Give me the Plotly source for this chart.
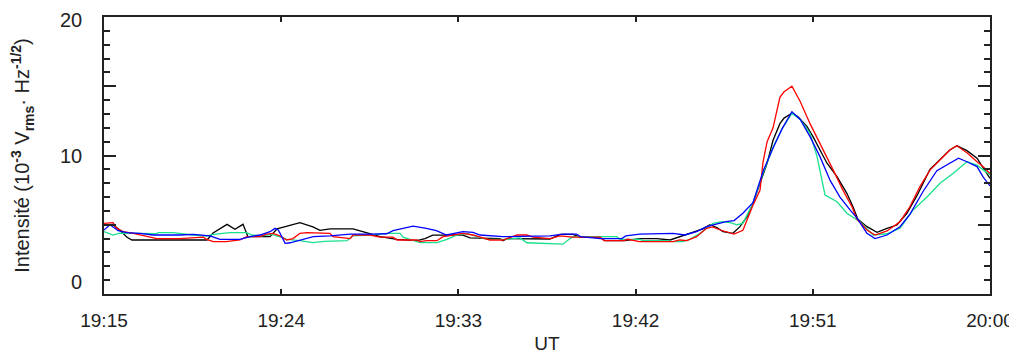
import plotly.graph_objects as go

# time in minutes after 19:15
tick_minutes = [0, 9, 18, 27, 36, 45]
tick_labels = ["19:15", "19:24", "19:33", "19:42", "19:51", "20:00"]
# y labels as drawn in the source (0 and 20 sit slightly inside the frame)
y_label_text = ["0", "10", "20"]
y_label_pos = [0.87, 10, 19.8]

black_t = [0, 0.46, 0.81, 1.17, 1.42, 5.23, 5.54, 6.25, 6.65, 7.06, 7.31, 8.43, 8.79, 9.95, 10.61,
           10.97, 11.48, 12.65, 13.41, 14.02, 14.88, 15.9, 16.3, 16.7, 18.23, 18.59, 20.11, 20.26, 20.47,
           21.13, 21.79, 22.65, 23.16, 23.82, 24.17, 25.19, 25.44, 26.46, 27.22, 28.08, 28.75, 29.25,
           29.76, 30.42, 30.78, 31.13, 31.44, 31.94, 32.3, 32.66, 32.96, 33.32, 33.68, 33.98, 34.33,
           34.54, 34.94, 35.25, 35.7, 36.01, 36.37, 36.72, 37.23, 37.73, 38.04, 38.29, 38.75, 39.26,
           39.77, 40.27, 40.78, 41.29, 41.95, 42.46, 42.96, 43.32, 43.83, 44.34, 44.64, 45]
black_v = [5.0, 5.0, 4.6, 4.1, 3.9, 3.9, 4.4, 5.03, 4.67, 5.03, 4.14, 4.14, 4.7, 5.15, 4.85,
           4.6, 4.7, 4.7, 4.4, 4.15, 3.95, 3.85, 4.0, 4.25, 4.25, 4.05, 4.0, 3.85, 4.0,
           4.0, 3.95, 3.97, 4.3, 4.3, 4.1, 4.1, 3.85, 3.85, 4.0, 4.0, 3.9, 4.14,
           4.4, 4.7, 5.0, 4.8, 4.5, 4.38, 4.86, 5.58, 6.55, 8.0, 9.44, 11.1, 12.3,
           12.7, 13.05, 12.8, 12.1, 11.36, 10.4, 9.44, 8.47, 7.27, 6.3, 5.4, 4.86, 4.45,
           4.74, 4.98, 5.83, 7.1, 9.0, 9.7, 10.4, 10.7, 10.35, 9.8, 9.1, 8.35]

red_t = [0, 0.46, 0.64, 0.98, 1.49, 2.68, 3.86, 4.5, 5.04, 5.21, 5.55, 6.2, 6.9, 7.25, 7.9,
         8.26, 8.6, 8.94, 9.28, 9.6, 9.95, 10.3, 11.48, 11.63, 12.5, 12.65, 13.51, 14.02, 14.68,
         14.88, 15.9, 16.05, 16.4, 16.91, 17.22, 17.72, 18.23, 18.74, 19.1, 19.6, 20.26, 20.98,
         21.48, 21.79, 22.65, 23.16, 23.8, 25.2, 25.4, 26.4, 26.6, 27.2, 28.9, 29.25, 29.6, 30.1,
         30.6, 30.9, 31.3, 31.6, 32.0, 32.45, 32.96, 33.32, 33.47, 33.68, 33.98, 34.33, 34.54,
         34.94, 35.36, 35.86, 36.37, 37.02, 37.53, 37.99, 38.24, 38.75, 39.16, 39.77, 40.43,
         40.93, 41.44, 41.95, 42.46, 42.96, 43.32, 43.83, 44.34, 44.64, 45]
red_v = [5.1, 5.15, 4.74, 4.5, 4.38, 4.0, 4.0, 4.05, 4.1, 3.95, 3.78, 3.78, 3.9, 4.14, 4.15,
         4.33, 4.38, 4.19, 3.9, 4.0, 4.38, 4.43, 4.38, 4.14, 4.0, 4.26, 4.26, 4.1, 4.1,
         3.9, 3.9, 3.78, 3.85, 3.85, 4.14, 4.26, 4.38, 4.26, 4.1, 3.9, 3.9, 4.26,
         4.26, 4.1, 4.0, 4.19, 4.1, 4.1, 3.85, 3.85, 3.95, 3.78, 3.78, 3.9, 3.85, 4.14,
         4.74, 4.85, 4.62, 4.5, 4.33, 4.6, 6.4, 7.5, 9.5, 11.0, 12.0, 14.2, 14.6,
         15.0, 13.9, 12.3, 10.9, 9.0, 7.5, 6.3, 5.4, 4.62, 4.26, 4.55, 5.22,
         6.3, 7.75, 8.95, 9.68, 10.4, 10.7, 10.2, 9.55, 9.2, 8.7]

blue_t = [0, 0.3, 0.72, 1.15, 1.83, 2.5, 3.86, 4.54, 5.38, 5.89, 6.91, 7.42, 7.92, 8.43, 8.69,
          8.86, 9.03, 9.2, 9.45, 9.95, 10.63, 11.48, 12.5, 13.6, 14.36, 14.68, 15.7, 16.37, 16.88,
          17.4, 17.72, 18.23, 18.74, 19.1, 20.26, 22.65, 23.3, 24.0, 24.2, 25.2, 26.3, 26.5, 27.2,
          28.1, 28.9, 29.5, 30.1, 30.6, 31.1, 31.6, 32.0, 32.45, 32.96, 33.5, 34.0, 34.45, 34.94,
          35.36, 35.86, 36.37, 36.88, 37.38, 37.9, 38.24, 38.75, 39.16, 39.77, 40.43, 40.93, 41.6,
          42.3, 42.96, 43.4, 43.83, 44.34, 44.64, 45]
blue_v = [4.62, 5.0, 4.57, 4.43, 4.38, 4.26, 4.26, 4.3, 4.19, 3.95, 3.95, 4.14, 4.26, 4.5, 4.74,
          4.6, 4.14, 3.66, 3.7, 3.9, 4.14, 4.19, 4.33, 4.33, 4.35, 4.57, 4.9, 4.74, 4.57,
          4.26, 4.35, 4.5, 4.45, 4.26, 4.14, 4.19, 4.33, 4.33, 4.14, 4.0, 4.0, 4.19, 4.33,
          4.35, 4.38, 4.26, 4.5, 4.86, 5.05, 5.22, 5.3, 5.83, 6.6, 8.95, 10.6, 11.96, 13.16,
          12.6, 11.36, 9.9, 8.2, 7.0, 6.06, 5.5, 4.38, 4.0, 4.26, 4.86, 5.75, 7.4,
          8.9, 9.44, 9.8, 9.55, 9.2, 8.47, 7.8]

green_t = [0, 0.46, 0.8, 1.83, 2.65, 2.75, 3.5, 4.5, 5.2, 5.55, 6.4, 7.25, 7.5, 7.92, 8.5,
           9.0, 9.28, 9.95, 10.6, 11.2, 12.34, 12.65, 13.51, 14.37, 15.03, 15.19, 16.05, 16.91,
           17.42, 17.93, 18.44, 18.94, 19.45, 20.47, 21.13, 21.48, 23.31, 23.67, 23.82, 26.05,
           26.21, 27.22, 27.37, 28.59, 28.9, 29.4, 29.76, 30.27, 30.93, 31.39, 31.8, 32.15, 32.45,
           32.96, 33.47, 33.98, 34.43, 34.94, 35.36, 35.86, 36.22, 36.62, 37.23, 37.73, 38.39,
           39.06, 39.77, 40.43, 41.09, 41.8, 42.46, 43.12, 43.83, 44.34, 45]
green_v = [4.5, 4.26, 4.4, 4.35, 4.35, 4.43, 4.43, 4.26, 4.19, 4.3, 4.43, 4.43, 4.26, 4.19, 4.3,
           4.1, 3.95, 3.85, 3.71, 3.8, 3.85, 4.2, 4.26, 4.38, 4.38, 4.1, 3.71, 3.71,
           3.95, 4.26, 4.38, 4.14, 3.95, 3.95, 4.05, 3.7, 3.6, 4.0, 4.14, 4.14,
           3.95, 3.95, 3.85, 3.85, 3.78, 3.78, 3.95, 4.38, 5.1, 5.22, 5.15, 5.0, 5.1,
           6.55, 8.7, 10.6, 11.9, 13.05, 12.6, 11.6, 9.9, 7.15, 6.66, 5.83, 5.22,
           4.26, 4.35, 4.75, 6.06, 7.0, 8.0, 8.7, 9.55, 9.3, 8.6]

series = [
    ("black", black_t, black_v, "#000000"),
    ("green", green_t, green_v, "#19E08C"),
    ("red", red_t, red_v, "#FF0000"),
    ("blue", blue_t, blue_v, "#0000FF"),
]

fig = go.Figure()
for name, t, v, c in series:
    fig.add_trace(go.Scatter(x=t, y=v, mode="lines", name=name,
                             line=dict(color=c, width=1.3)))

axis_color = "#222222"
# the page body adds an 8px margin, compensated in the margins below
fig.update_layout(
    width=1017, height=350,
    margin=dict(l=96, r=35, t=9, b=64, autoexpand=False),
    plot_bgcolor="white", paper_bgcolor="white",
    showlegend=False,
    font=dict(family="Liberation Sans, Arial, sans-serif", size=20, color="#222222"),
)
fig.update_xaxes(
    range=[0, 45], tickmode="array", tickvals=tick_minutes, ticktext=tick_labels,
    tickfont=dict(size=19),
    ticks="inside", ticklen=5, tickwidth=1.5, tickcolor=axis_color,
    showline=True, linecolor=axis_color, linewidth=2, mirror="ticks",
    showgrid=False, zeroline=False, automargin=False,
    ticklabelstandoff=8,
    title=dict(text="UT", standoff=7, font=dict(size=19)),
)
fig.update_yaxes(
    range=[0, 20], tickmode="array", tickvals=[0, 5, 10, 15, 20],
    showticklabels=False,
    ticks="inside", ticklen=12, tickwidth=1.5, tickcolor=axis_color,
    minor=dict(dtick=1, ticks="inside", ticklen=6, tickwidth=1.5, tickcolor=axis_color),
    showline=True, linecolor=axis_color, linewidth=2, mirror="ticks",
    showgrid=False, zeroline=False, automargin=False,
    title=dict(text="Intensité (10<sup><b>-3</b></sup> V<sub><b>rms</b></sub>· Hz<sup><b>-1/2</b></sup>)",
               standoff=70, font=dict(size=20)),
)
for txt, pos in zip(y_label_text, y_label_pos):
    fig.add_annotation(x=0, xref="paper", y=pos, yref="y", text=txt, showarrow=False,
                       xanchor="right", yanchor="middle", xshift=-20,
                       font=dict(size=20, color="#222222"))

fig.write_html("out.html")
